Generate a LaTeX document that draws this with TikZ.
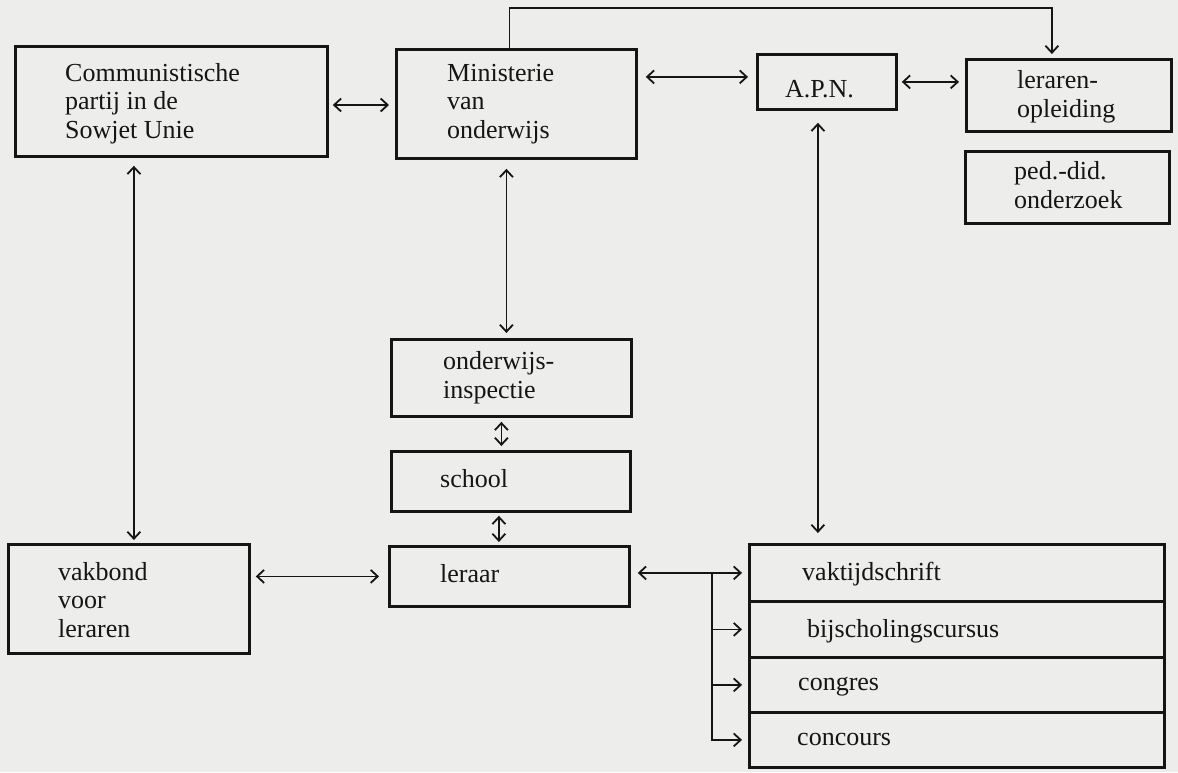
\documentclass[tikz,border=0pt]{standalone}
\usepackage{fontspec}
\setmainfont{Liberation Serif}
\usetikzlibrary{arrows.meta,calc}
\definecolor{paper}{HTML}{EDEDEB}
\definecolor{ink}{HTML}{151515}
\tikzset{
  box/.style={draw=ink, line width=2.8pt, rectangle, inner sep=0pt, anchor=north west},
  lbl/.style={anchor=base west, inner sep=0pt, align=left, text=ink, font=\fontsize{26}{28.5}\selectfont},
  conn/.style={draw=ink, line width=1.8pt},
  dbl/.style={conn, {Straight Barb[length=7pt,width=13pt]}-{Straight Barb[length=7pt,width=13pt]}},
  one/.style={conn, -{Straight Barb[length=7pt,width=13pt]}}
}
\begin{document}
\begin{tikzpicture}[x=1pt,y=-1pt]
\fill[paper] (0,0) rectangle (1178,772);
\useasboundingbox (0,0) rectangle (1178,772);
% boxes
\node[box, minimum width=312, minimum height=110] (comm) at (14,45) {};
\node[box, minimum width=240, minimum height=109] (min) at (395,48) {};
\node[box, minimum width=139, minimum height=55] (apn) at (756,53) {};
\node[box, minimum width=205, minimum height=72] (lop) at (965,58) {};
\node[box, minimum width=204, minimum height=72] (ped) at (964,150) {};
\node[box, minimum width=240, minimum height=77] (insp) at (390,338) {};
\node[box, minimum width=239, minimum height=60] (school) at (390,450) {};
\node[box, minimum width=240, minimum height=60] (leraar) at (388,545) {};
\node[box, minimum width=241, minimum height=109] (vak) at (7,543) {};
\node[box, minimum width=415, minimum height=57] (vt) at (748,543) {};
\node[box, minimum width=415, minimum height=56] (bs) at (748,600) {};
\node[box, minimum width=415, minimum height=55] (cg) at (748,656) {};
\node[box, minimum width=415, minimum height=55] (cc) at (748,711) {};
% texts (base anchor = baseline of last line)
\node[lbl] (commT) at (65,138) {Communistische\\partij in de\\Sowjet Unie};
\node[lbl] (minT) at (447,138) {Ministerie\\van\\onderwijs};
\node[lbl] (apnT) at (785,97) {A.P.N.};
\node[lbl] (lopT) at (1017,117) {leraren-\\opleiding};
\node[lbl] (pedT) at (1014,208) {ped.-did.\\onderzoek};
\node[lbl] (inspT) at (443,398) {onderwijs-\\inspectie};
\node[lbl] (schoolT) at (440,487) {school};
\node[lbl] (leraarT) at (440,582) {leraar};
\node[lbl] (vakT) at (58,637) {vakbond\\voor\\leraren};
\node[lbl] (vtT) at (802,580) {vaktijdschrift};
\node[lbl] (bsT) at (807,637) {bijscholingscursus};
\node[lbl] (cgT) at (798,690) {congres};
\node[lbl] (ccT) at (797,745) {concours};
% connectors
\draw[dbl, shorten <=4pt, shorten >=6pt] (comm.east |- 0,105) -- (min.west |- 0,105);
\draw[dbl, shorten <=8pt, shorten >=8pt] ([yshift=5pt]min.east |- apn.west) -- ([yshift=5pt]apn.west);
\draw[dbl, shorten <=4pt, shorten >=6pt] (apn.east) -- (apn.east -| lop.west);
\coordinate (topL) at ([xshift=-7pt]min.north);
\draw[one, shorten >=4pt] (topL) -- ++(0,-40) -| ([xshift=-17pt]lop.north);
\draw[dbl, shorten <=8pt, shorten >=3pt] ([xshift=5pt]vak.north |- comm.south) -- ([xshift=5pt]vak.north);
\draw[dbl, shorten <=9pt, shorten >=5pt] ([xshift=-10pt]min.south) -- ([xshift=-10pt]min.south |- insp.north);
\draw[dbl, shorten <=4pt, shorten >=4pt] ([xshift=-10pt]insp.south) -- ([xshift=-10pt]insp.south |- school.north);
\draw[dbl, shorten <=3pt, shorten >=3pt] ([xshift=-12pt]school.south) -- ([xshift=-12pt]school.south |- leraar.north);
\draw[dbl, shorten <=5pt, shorten >=9pt] (vak.east |- leraar.west) -- (leraar.west);
\draw[dbl, shorten <=7pt, shorten >=6pt] (leraar.east |- vt.west) -- (vt.west);
\coordinate (j) at (712,0);
\draw[one, shorten >=6pt] (j |- vt.west) |- (cc.west);
\draw[one, shorten >=6pt] (j |- bs.west) -- (bs.west);
\draw[one, shorten >=6pt] (j |- cg.west) -- (cg.west);
\draw[dbl, shorten <=12pt, shorten >=10pt] ([xshift=-9pt]apn.south) -- ([xshift=-9pt]apn.south |- vt.north);
\end{tikzpicture}
\end{document}
